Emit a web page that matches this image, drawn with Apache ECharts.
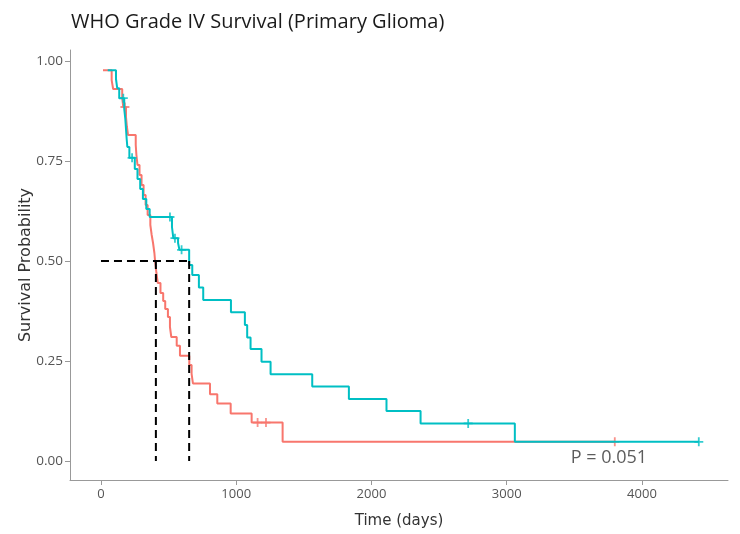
<!DOCTYPE html>
<html>
<head>
<meta charset="utf-8">
<script src="https://cdn.jsdelivr.net/npm/echarts@6/dist/echarts.min.js"></script>
<style>html,body{margin:0;padding:0;background:#fff}#c{width:740px;height:534px}</style>
</head>
<body>
<div id="c"></div>
<script>
// Kaplan-Meier step data (time in days, survival probability after each step)
const redT = [15, 79, 90, 157, 165, 185, 192, 200, 257, 262, 270, 285, 300, 315, 330, 345, 365, 375, 385, 395, 400, 410, 420, 440, 460, 475, 495, 510, 520, 560, 584, 653, 670, 680, 806, 860, 959, 1114, 1343, 3799];
const redS = [0.977, 0.952, 0.93, 0.907, 0.885, 0.86, 0.835, 0.815, 0.79, 0.765, 0.74, 0.715, 0.69, 0.665, 0.64, 0.615, 0.59, 0.565, 0.545, 0.52, 0.5, 0.47, 0.445, 0.42, 0.40, 0.38, 0.36, 0.335, 0.31, 0.288, 0.263, 0.24, 0.218, 0.194, 0.167, 0.144, 0.119, 0.096, 0.048, 0.048];
const cyanT = [50, 111, 120, 135, 172, 180, 185, 190, 195, 210, 250, 270, 290, 310, 335, 360, 525, 535, 570, 580, 652, 675, 724, 756, 961, 1064, 1081, 1106, 1187, 1254, 1562, 1833, 2111, 2363, 3060, 4420];
const cyanS = [0.977, 0.955, 0.932, 0.907, 0.88, 0.855, 0.83, 0.805, 0.785, 0.758, 0.73, 0.705, 0.68, 0.655, 0.63, 0.61, 0.585, 0.557, 0.545, 0.528, 0.49, 0.465, 0.434, 0.4025, 0.372, 0.34, 0.309, 0.28, 0.248, 0.217, 0.186, 0.155, 0.125, 0.094, 0.048, 0.048];
// censoring marks
const redCensT = [177, 1158, 1220, 3799];
const redCensS = [0.885, 0.096, 0.096, 0.048];
const cyanCensT = [165, 230, 510, 547, 596, 2715, 4420];
const cyanCensS = [0.907, 0.758, 0.61, 0.557, 0.528, 0.094, 0.048];
// medians
const medians = [406, 652];
const medianLevel = 0.5;
// ticks
const xTicks = [0, 1000, 2000, 3000, 4000];
const yTicks = [0, 0.25, 0.5, 0.75, 1];
const pText = 'P = 0.051';
const pPos = [3755, 0.008];

const RED = '#F8766D', CYAN = '#00BFC4';
const FONT = 'Open Sans';
const NFONT = 'DejaVu Sans';
const zip = (a, b) => a.map((v, i) => [v, b[i]]);
const plus = 'path://M4,0 h2 v10 h-2 z M0,4 h10 v2 h-10 z';

const dashedStyle = {color: '#000', width: 2, type: [8, 5]};
const dashSeries = [
  {type: 'line', data: [[0, medianLevel], [Math.max(...medians), medianLevel]]},
  ...medians.map(m => ({type: 'line', data: [[m, medianLevel], [m, 0]]}))
].map(s => Object.assign(s, {symbol: 'none', lineStyle: dashedStyle, z: 5, silent: true, animation: false}));

const chart = echarts.init(document.getElementById('c'));
chart.setOption({
  animation: false,
  backgroundColor: '#fff',
  title: {
    text: 'WHO Grade IV Survival (Primary Glioma)',
    left: 66, top: 7,
    textStyle: {fontFamily: FONT, fontSize: 20, fontWeight: 'normal', color: '#1a1a1a'}
  },
  grid: {left: 70, right: 12, top: 50, bottom: 54},
  xAxis: {
    type: 'value', min: -229, max: 4636,
    name: 'Time (days)', nameLocation: 'middle', nameGap: 34, nameMoveOverlap: false,
    nameTextStyle: {fontFamily: NFONT, fontSize: 15, color: '#333'},
    axisLine: {onZero: false, lineStyle: {color: '#999', width: 1}},
    axisTick: {show: true, length: 5, lineStyle: {color: '#999'}, customValues: xTicks},
    axisLabel: {fontFamily: FONT, fontSize: 13, color: '#555', margin: 8, customValues: xTicks,
      formatter: v => String(v)},
    splitLine: {show: false}
  },
  yAxis: {
    type: 'value', min: -0.0475, max: 1.0275,
    name: 'Survival Probability', nameLocation: 'middle', nameGap: 36, nameMoveOverlap: false,
    nameTextStyle: {fontFamily: NFONT, fontSize: 16, color: '#333'},
    axisLine: {show: true, onZero: false, lineStyle: {color: '#999', width: 1}},
    axisTick: {show: true, length: 5, lineStyle: {color: '#999'}, customValues: yTicks},
    axisLabel: {fontFamily: FONT, fontSize: 13.5, color: '#555', margin: 7, customValues: yTicks,
      formatter: v => v.toFixed(2)},
    splitLine: {show: false}
  },
  series: [
    {type: 'line', step: 'end', data: zip(redT, redS), symbol: 'none',
      lineStyle: {color: RED, width: 2}, z: 2},
    {type: 'scatter', data: zip(redCensT, redCensS), symbol: plus, symbolSize: 9,
      itemStyle: {color: RED}, z: 2},
    {type: 'line', step: 'end', data: zip(cyanT, cyanS), symbol: 'none',
      lineStyle: {color: CYAN, width: 2}, z: 3},
    {type: 'scatter', data: zip(cyanCensT, cyanCensS), symbol: plus, symbolSize: 9,
      itemStyle: {color: CYAN}, z: 3},
    ...dashSeries,
    {type: 'scatter', data: [pPos], symbolSize: 0, silent: true, z: 6,
      label: {show: true, position: 'inside', formatter: pText,
        fontFamily: FONT, fontSize: 18, color: '#333'}}
  ]
});
</script>
</body>
</html>
